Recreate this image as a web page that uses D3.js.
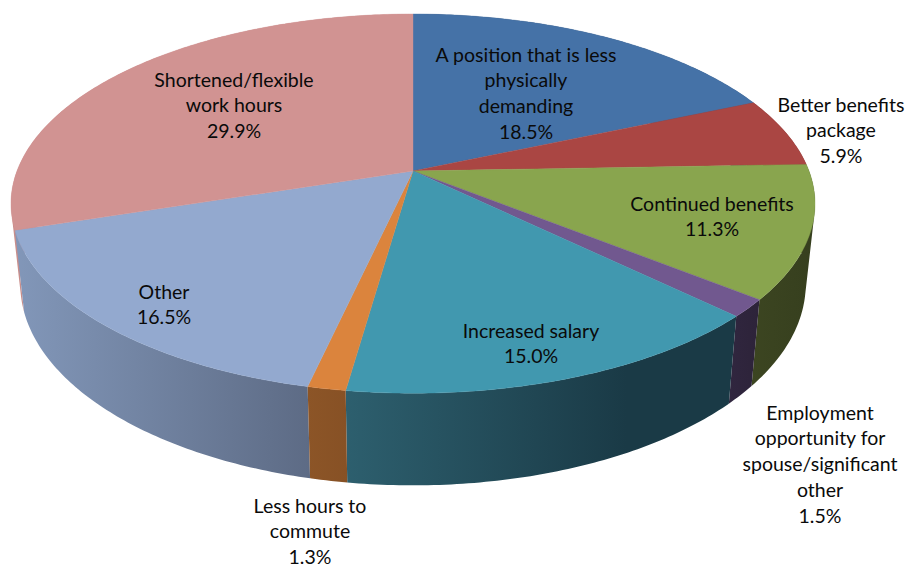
<!DOCTYPE html>
<html>
<head>
<meta charset="utf-8">
<script src="https://cdn.jsdelivr.net/npm/d3@7/dist/d3.min.js"></script>
<style>
html,body{margin:0;padding:0;background:#fff;overflow:hidden}
svg{display:block}
text{font-family:Lato,"Open Sans",sans-serif;font-size:19.5px;fill:#0a0a0a;text-anchor:middle}
</style>
</head>
<body>
<svg id="chart" width="907" height="567"></svg>
<script>
const categories = [
  ["A position that is less","physically","demanding"],
  ["Better benefits","package"],
  ["Continued benefits"],
  ["Employment","opportunity for","spouse/significant","other"],
  ["Increased salary"],
  ["Less hours to","commute"],
  ["Other"],
  ["Shortened/flexible","work hours"]
];
const shares = [18.5, 5.9, 11.3, 1.5, 15.0, 1.3, 16.5, 29.9];
const topColors = ["#4572A7","#AA4643","#89A54E","#71588F","#4198AF","#DB843D","#93A9CF","#D19392"];
const wallLeft  = ["#2e4a70","#6f2e2c","#3c4521","#30263f","#2d5f6e","#8c5527","#8297b9","#c98e8b"];
const wallRight = ["#2e4a70","#6f2e2c","#363f1e","#2d2339","#1a3a46","#875125","#5d6b85","#c98e8b"];
const labelX = [526, 841, 712, 820, 531, 310, 164, 234];
const labelY = [55, 105, 204, 413, 331, 506, 292, 80];

const W = 907, H = 567, lineH = 25.8;
const cx = 413, cy = 171, a = 396, b = 184, p = 0.172;
const svg = d3.select("#chart");

const slices = d3.pie().sort(null).value(d => d)(shares);

// perspective projection of the disc (angle 0 = back, clockwise)
const top3d = t => {
  const u = Math.sin(t), v = Math.cos(t), s = 1 + p * v;
  return [cx + a * u / s, cy - b * v / s];
};
const low3d = t => {
  const [x, y] = top3d(t);
  return [cx + (x - cx) * 0.977, y + 82 + (y - 230) * 0.062];
};
const sample = (s) => {
  const n = Math.max(2, Math.ceil((s.endAngle - s.startAngle) * 80));
  return d3.range(n + 1).map(i => s.startAngle + (s.endAngle - s.startAngle) * i / n);
};
const line = d3.line();

// each wall is a run of small quads, all wound the same way, so the silhouette is filled
const wallPath = ts => d3.pairs(ts).map(([t0, t1]) => {
  let q = [top3d(t0), top3d(t1), low3d(t1), low3d(t0)];
  if (d3.polygonArea(q) < 0) q = q.reverse();
  return line(q) + "Z";
}).join("");

const defs = svg.append("defs");
const walls = slices.map((s, i) => {
  const ts = sample(s);
  return {
    i, ts,
    pts: ts.map(top3d).concat(ts.map(low3d)),
    depth: d3.mean(ts, t => Math.cos(t))
  };
}).sort((m, n) => n.depth - m.depth);

walls.forEach(w => {
  const xs = d3.extent(w.pts, d => d[0]);
  const g = defs.append("linearGradient").attr("id", "w" + w.i)
    .attr("gradientUnits", "userSpaceOnUse")
    .attr("x1", xs[0]).attr("x2", w.i === 4 ? xs[0] + (xs[1] - xs[0]) * 0.72 : xs[1])
    .attr("y1", 0).attr("y2", 0);
  g.append("stop").attr("offset", 0).attr("stop-color", wallLeft[w.i]);
  g.append("stop").attr("offset", 1).attr("stop-color", wallRight[w.i]);
});

svg.append("g").selectAll("path").data(walls).join("path")
  .attr("d", w => wallPath(w.ts))
  .attr("fill", w => `url(#w${w.i})`);

svg.append("g").selectAll("path").data(slices).join("path")
  .attr("d", s => line([[cx, cy]].concat(sample(s).map(top3d))) + "Z")
  .attr("fill", (s, i) => topColors[i])
  .attr("stroke", (s, i) => topColors[i])
  .attr("stroke-width", 0.4);

const labels = svg.append("g").selectAll("text").data(slices).join("text")
  .attr("x", (s, i) => labelX[i])
  .attr("y", (s, i) => labelY[i] + 6.5);
labels.each(function(s, i) {
  const rows = categories[i].concat(d3.format(".1f")(shares[i]) + "%");
  d3.select(this).selectAll("tspan").data(rows).join("tspan")
    .attr("x", labelX[i])
    .attr("dy", (r, k) => k ? lineH : 0)
    .text(r => r);
});
</script>
</body>
</html>
